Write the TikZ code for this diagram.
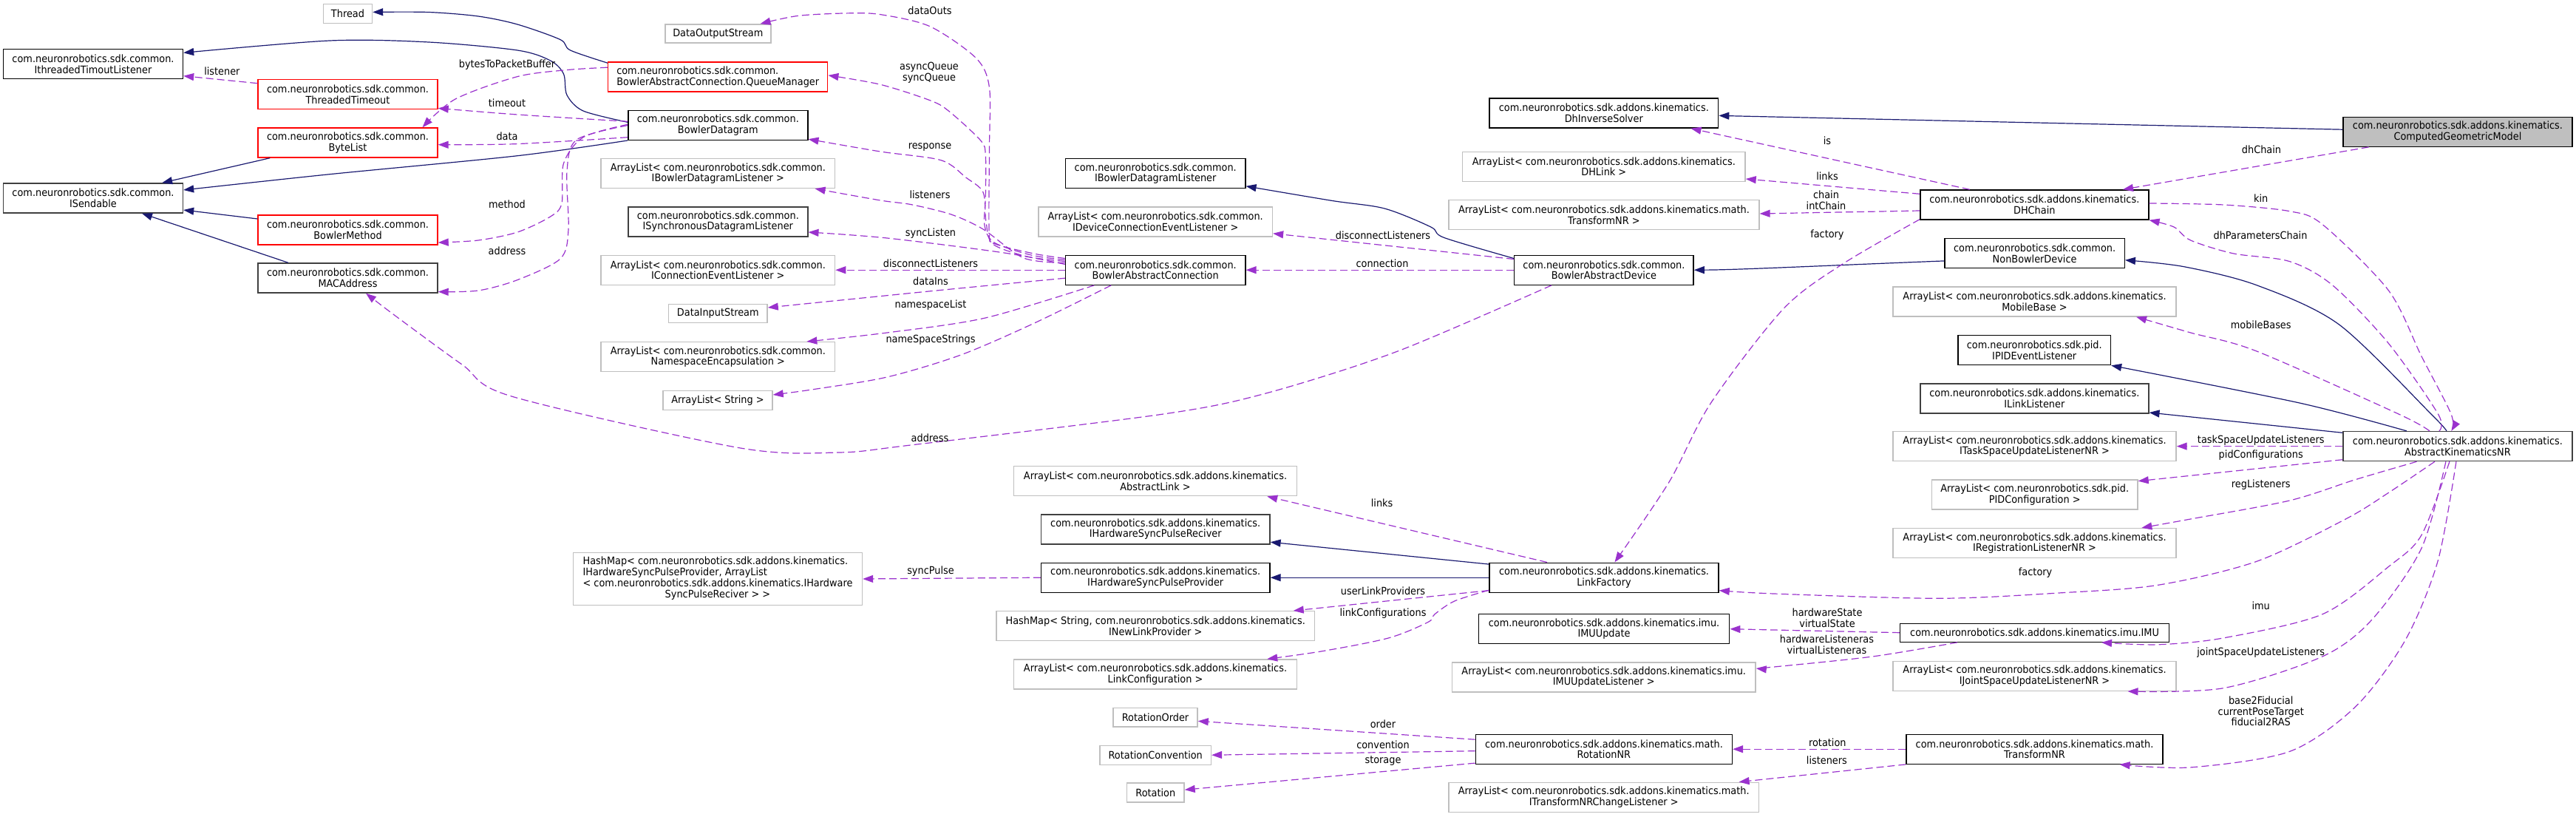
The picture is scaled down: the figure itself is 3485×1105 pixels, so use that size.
\documentclass[tikz,border=0pt]{standalone}
\usepackage{fontspec}
\setmainfont{DejaVu Sans}[FakeStretch=0.92]
\usetikzlibrary{arrows.meta,calc}
\definecolor{navy}{HTML}{191970}
\definecolor{usecol}{HTML}{9A32CD}
\definecolor{gbord}{HTML}{BFBFBF}
\definecolor{dbord}{HTML}{404040}
\begin{document}
\begin{tikzpicture}[x=1pt,y=-1pt,
 cls/.style={draw, rectangle, line width=1.4pt, inner sep=0pt, align=center, fill=white, font=\fontsize{14}{14.6}\selectfont},
 doc/.style={cls, draw=black},
 dk/.style={cls, draw=dbord},
 ext/.style={cls, draw=gbord},
 trunc/.style={cls, draw=red},
 sz/.style 2 args={minimum width=#1pt, minimum height=#2pt},
 inh/.style={navy, line width=1.2pt, -{Triangle[length=14pt,width=10pt]}},
 use/.style={usecol, line width=1.2pt, dash pattern=on 10pt off 5pt, -{Triangle[length=14pt,width=10pt]}},
 lbl/.style={font=\fontsize{14}{14.6}\selectfont, align=center, inner sep=0pt, text=black},
]
\useasboundingbox (0,0) rectangle (3485,1105);
% ---------- nodes ----------
\node[ext, sz={66}{26}] (thread) at (470.5,18.4) {Thread};
\node[doc, sz={243}{40}] (itl) at (126,86.6) {com.neuronrobotics.sdk.common.\\IthreadedTimoutListener};
\node[trunc, sz={243}{40}] (tto) at (470.5,127.7) {com.neuronrobotics.sdk.common.\\ThreadedTimeout};
\node[trunc, sz={243}{40}] (bytelist) at (470.5,193) {com.neuronrobotics.sdk.common.\\ByteList};
\node[dk, sz={243}{40}] (isend) at (126,268) {com.neuronrobotics.sdk.common.\\ISendable};
\node[trunc, sz={243}{40}] (bmethod) at (470.5,311) {com.neuronrobotics.sdk.common.\\BowlerMethod};
\node[dk, sz={243}{40}] (mac) at (470.5,376) {com.neuronrobotics.sdk.common.\\MACAddress};
\node[ext, sz={143}{25}] (dos) at (971.3,45.4) {DataOutputStream};
\node[trunc, sz={297}{40}, align=left] (qm) at (971.2,103.9) {com.neuronrobotics.sdk.common.\\BowlerAbstractConnection.QueueManager};
\node[doc, sz={243}{40}] (bdg) at (971.3,169.3) {com.neuronrobotics.sdk.common.\\BowlerDatagram};
\node[ext, sz={316.5}{40}] (albdl) at (971.3,234.5) {ArrayList< com.neuronrobotics.sdk.common.\\IBowlerDatagramListener >};
\node[dk, sz={243}{40}] (isdl) at (971.3,299.8) {com.neuronrobotics.sdk.common.\\ISynchronousDatagramListener};
\node[ext, sz={316.5}{40}] (alcel) at (971.3,365.2) {ArrayList< com.neuronrobotics.sdk.common.\\IConnectionEventListener >};
\node[ext, sz={133.5}{25}] (dis) at (971.3,423.9) {DataInputStream};
\node[ext, sz={316.5}{40}] (alns) at (971.3,482.7) {ArrayList< com.neuronrobotics.sdk.common.\\NamespaceEncapsulation >};
\node[ext, sz={148}{25.7}] (als) at (971,541.5) {ArrayList< String >};
\node[ext, sz={391}{71}] (hmsp) at (971,783) {\begin{tabular}{@{}l@{}}HashMap< com.neuronrobotics.sdk.addons.kinematics.\\IHardwareSyncPulseProvider, ArrayList\\< com.neuronrobotics.sdk.addons.kinematics.IHardware\\\multicolumn{1}{@{}c@{}}{SyncPulseReciver > >}\end{tabular}};
\node[doc, sz={243.3}{40}] (ibdl) at (1563.2,234.5) {com.neuronrobotics.sdk.common.\\IBowlerDatagramListener};
\node[ext, sz={316.5}{40}] (aldcel) at (1563.2,299.8) {ArrayList< com.neuronrobotics.sdk.common.\\IDeviceConnectionEventListener >};
\node[doc, sz={243.3}{40}] (bac) at (1563.2,365.2) {com.neuronrobotics.sdk.common.\\BowlerAbstractConnection};
\node[ext, sz={383}{40}] (alal) at (1563,650.7) {ArrayList< com.neuronrobotics.sdk.addons.kinematics.\\AbstractLink >};
\node[dk, sz={309.4}{40}] (ihspr) at (1563.2,715.8) {com.neuronrobotics.sdk.addons.kinematics.\\IHardwareSyncPulseReciver};
\node[doc, sz={309.4}{40}] (ihspp) at (1563.2,781.2) {com.neuronrobotics.sdk.addons.kinematics.\\IHardwareSyncPulseProvider};
\node[ext, sz={430.8}{40}] (hmnlp) at (1563.2,846.7) {HashMap< String, com.neuronrobotics.sdk.addons.kinematics.\\INewLinkProvider >};
\node[ext, sz={383}{40}] (allc) at (1563,912) {ArrayList< com.neuronrobotics.sdk.addons.kinematics.\\LinkConfiguration >};
\node[ext, sz={114}{25.7}] (ro) at (1563,970.3) {RotationOrder};
\node[ext, sz={150.4}{26}] (rc) at (1563.2,1021.2) {RotationConvention};
\node[ext, sz={77.4}{25.7}] (rot) at (1563.3,1072) {Rotation};
\node[doc, sz={242.3}{40}] (bad) at (2169.9,365.2) {com.neuronrobotics.sdk.common.\\BowlerAbstractDevice};
\node[doc, sz={309.6}{40}] (dhis) at (2169.8,153) {com.neuronrobotics.sdk.addons.kinematics.\\DhInverseSolver};
\node[ext, sz={382.4}{40}] (aldhl) at (2169.8,225.2) {ArrayList< com.neuronrobotics.sdk.addons.kinematics.\\DHLink >};
\node[ext, sz={420}{40}] (altnr) at (2169.9,290.5) {ArrayList< com.neuronrobotics.sdk.addons.kinematics.math.\\TransformNR >};
\node[doc, sz={310}{40}] (lf) at (2170,781.2) {com.neuronrobotics.sdk.addons.kinematics.\\LinkFactory};
\node[doc, sz={339.3}{40}] (imuu) at (2170,850.7) {com.neuronrobotics.sdk.addons.kinematics.imu.\\IMUUpdate};
\node[ext, sz={410.7}{40}] (alimuul) at (2169.7,915.8) {ArrayList< com.neuronrobotics.sdk.addons.kinematics.imu.\\IMUUpdateListener >};
\node[doc, sz={347}{40}] (rnr) at (2169.9,1013.2) {com.neuronrobotics.sdk.addons.kinematics.math.\\RotationNR};
\node[ext, sz={419.7}{40}] (altnrcl) at (2169.7,1078.3) {ArrayList< com.neuronrobotics.sdk.addons.kinematics.math.\\ITransformNRChangeListener >};
\node[doc, sz={309}{40}] (dhchain) at (2752.3,277) {com.neuronrobotics.sdk.addons.kinematics.\\DHChain};
\node[doc, sz={243.3}{40}] (nbd) at (2752.6,342.5) {com.neuronrobotics.sdk.common.\\NonBowlerDevice};
\node[ext, sz={383}{40}] (almb) at (2752.5,407.9) {ArrayList< com.neuronrobotics.sdk.addons.kinematics.\\MobileBase >};
\node[doc, sz={206.5}{40}] (ipid) at (2752.2,473.6) {com.neuronrobotics.sdk.pid.\\IPIDEventListener};
\node[dk, sz={309}{40}] (ill) at (2752.3,538.8) {com.neuronrobotics.sdk.addons.kinematics.\\ILinkListener};
\node[ext, sz={383}{40}] (altsul) at (2752.5,603.6) {ArrayList< com.neuronrobotics.sdk.addons.kinematics.\\ITaskSpaceUpdateListenerNR >};
\node[ext, sz={278.6}{40}] (alpid) at (2752.7,669) {ArrayList< com.neuronrobotics.sdk.pid.\\PIDConfiguration >};
\node[ext, sz={383}{40}] (alreg) at (2752.5,734.6) {ArrayList< com.neuronrobotics.sdk.addons.kinematics.\\IRegistrationListenerNR >};
\node[doc, sz={364}{25}] (imu) at (2752.5,855.7) {com.neuronrobotics.sdk.addons.kinematics.imu.IMU};
\node[ext, sz={383}{40}] (aljsul) at (2752.5,914.3) {ArrayList< com.neuronrobotics.sdk.addons.kinematics.\\IJointSpaceUpdateListenerNR >};
\node[doc, sz={347}{40}] (tnr) at (2752.5,1013.2) {com.neuronrobotics.sdk.addons.kinematics.math.\\TransformNR};
\node[doc, sz={310}{40}, fill=gbord] (cgm) at (3324.9,178.2) {com.neuronrobotics.sdk.addons.kinematics.\\ComputedGeometricModel};
\node[dk, sz={310}{40}] (aknr) at (3324.9,603.6) {com.neuronrobotics.sdk.addons.kinematics.\\AbstractKinematicsNR};
% ---------- inheritance edges ----------
\draw[inh] plot[smooth, tension=0.5] coordinates {([yshift=-2pt]qm.north west) (771.4,67.9) (758,53.6) (700,33) (647,22) (580,16.5) ([yshift=2pt]thread.east)};
\draw[inh] plot[smooth, tension=0.5] coordinates {([yshift=4pt]bdg.west) (789,150) (767,128.6) (762.5,100) (744.6,82) (700,68) (580,57) (446,55) ([yshift=15.2pt]itl.east)};
\draw[inh] plot[smooth] coordinates {(bdg.south west) (700,210.7) (446,235.7) ([yshift=11pt]isend.east)};
\draw[inh] ([xshift=17pt]bytelist.south west) -- ([xshift=-29pt]isend.north east);
\draw[inh] ([yshift=15pt]bmethod.west) -- ([yshift=-16pt]isend.east);
\draw[inh] ([xshift=41.6pt]mac.north west) -- ([xshift=66pt]isend.south);
\draw[inh] plot[smooth, tension=0.5] coordinates {([yshift=-5pt]bad.north west) (1953.6,321.4) (1935.7,307) (1873,282) (1801.8,271.4) ([yshift=-17.3pt]ibdl.east)};
\draw[inh] ([yshift=-10.4pt]nbd.west) .. controls (2450,360) and (2350,365) .. (bad.east);
\draw[inh] plot[smooth] coordinates {([yshift=3pt]cgm.west) (2800,167) ([yshift=-3.4pt]dhis.east)};
\draw[inh] plot[smooth] coordinates {([xshift=-15pt]aknr.north) (3289,560) (3164.5,439) (3052.9,385.7) (2954.6,360.7) ([yshift=-9.3pt]nbd.east)};
\draw[inh] plot[smooth] coordinates {([xshift=-69pt]aknr.north) (3110.9,545) (ipid.south east)};
\draw[inh] ([yshift=-2.4pt]aknr.north west) -- ([yshift=1.5pt]ill.south east);
\draw[inh] ([yshift=-2.6pt]lf.north west) -- ([yshift=-17.4pt]ihspr.east);
\draw[inh] (lf.west) -- (ihspp.east);
% ---------- usage edges ----------
\draw[use] ([yshift=-5.7pt]tto.north west) -- ([yshift=4.6pt]itl.south east);
\draw[use] plot[smooth] coordinates {([yshift=-8pt]qm.north west) (767,94.6) (700,103.6) (616,134) ([xshift=101pt]bytelist.north)};
\draw[use] plot[smooth] coordinates {([yshift=5pt]bdg.west) (700,155) ([yshift=-18.7pt]tto.east)};
\draw[use] plot[smooth] coordinates {([yshift=-16.4pt]bdg.west) (700,194.6) ([yshift=-2.7pt]bytelist.east)};
\draw[use] plot[smooth, tension=0.5] coordinates {([yshift=1pt]bdg.west) (789,185.7) (762.5,221) (760,275) (744.6,293) (700,314) (647,325) ([yshift=-17pt]bmethod.east)};
\draw[use] plot[smooth, tension=0.5] coordinates {([yshift=-0.3pt]bdg.west) (780,189) (767,232) (769,310.7) (758,350) (700,378.6) (647,393) ([yshift=-18.6pt]mac.east)};
\draw[use] plot[smooth] coordinates {([xshift=-71pt]bad.south) (1891,475) (1712.5,532) (1574,560) (1232,602) (1134,612) (1000,605.7) (692,536) (625,493) (536,428) ([xshift=24.5pt]mac.south)};
\draw[use] plot[smooth, tension=0.5] coordinates {([yshift=-5pt]bac.north west) (1400,343.3) (1346.7,330) (1338.3,316.7) (1338.5,200) (1338.4,117.9) (1320.5,78.6) (1258,35.7) (1191,19.6) (1146,17.9) (1079.5,21.4) ([xshift=-15pt]dos.north east)};
\draw[use] plot[smooth, tension=0.5] coordinates {([yshift=-7pt]bac.north west) (1395,345) (1345,328) (1332,305) (1333.3,266.7) (1333.3,210) (1326.7,190) (1283.3,150) (1258,135.7) (1191,114.3) ([yshift=2pt]qm.east)};
\draw[use] plot[smooth, tension=0.5] coordinates {([yshift=-9pt]bac.north west) (1390,347) (1343,330) (1334,300) (1330,260) (1306.7,240) (1273,216.7) (1191,205) ([yshift=1.8pt]bdg.south east)};
\draw[use] plot[smooth, tension=0.5] coordinates {([yshift=-11pt]bac.north west) (1385,349) (1330,310) (1286.7,290) (1233,276.7) (1191,271) ([xshift=-27.7pt]albdl.south east)};
\draw[use] plot[smooth] coordinates {([yshift=-13pt]bac.north west) (1356.7,341.7) (1200,322) ([yshift=-14.2pt]isdl.east)};
\draw[use] (bac.west) -- (alcel.east);
\draw[use] plot[smooth] coordinates {([yshift=-11pt]bac.west) (1266.7,393) ([yshift=7.9pt]dis.east)};
\draw[use] plot[smooth] coordinates {([xshift=-83pt]bac.south) (1333,430) (1200,450) ([xshift=-38.9pt]alns.north east)};
\draw[use] plot[smooth] coordinates {([xshift=-60pt]bac.south) (1400,436.7) (1300,480) (1200,510) (1100,526.7) ([yshift=7.5pt]als.east)};
\draw[use] ([yshift=-6pt]bad.north west) -- ([yshift=-16pt]aldcel.east);
\draw[use] (bad.west) -- (bac.east);
\draw[use] ([xshift=-87.6pt]dhchain.north) -- ([xshift=117.7pt]dhis.south);
\draw[use] ([yshift=-6pt]dhchain.north west) -- ([yshift=-16.8pt]aldhl.east);
\draw[use] ([yshift=-8pt]dhchain.west) -- ([yshift=1.5pt]altnr.east);
\draw[use] plot[smooth] coordinates {([yshift=1pt]dhchain.south west) (2492.9,357) (2412.5,417.9) (2314.6,545) (2258,652) ([xshift=14.4pt]lf.north)};
\draw[use] ([xshift=-120.3pt]cgm.south) -- ([xshift=119.7pt]dhchain.north);
\draw[use] plot[smooth] coordinates {([yshift=2pt]dhchain.east) (3008,277) (3097.5,285.7) (3142,303.6) (3231.4,392.9) (3276,482) (3316,560) ([xshift=-8.6pt]aknr.north)};
\draw[use] plot[smooth] coordinates {([xshift=-25pt]aknr.north) (3298.4,560) (3231,464) (3155.5,385.7) (3097.5,353.6) (3021.6,342.9) (2963.6,325) (2941,307) (dhchain.south east)};
\draw[use] plot[smooth] coordinates {([xshift=-38pt]aknr.north) (3245,560) (3052.9,475) (2963.6,450) ([xshift=137.5pt]almb.south)};
\draw[use] (aknr.west) -- (altsul.east);
\draw[use] ([yshift=2.6pt]aknr.south west) -- ([yshift=-2.4pt]alpid.north east);
\draw[use] plot[smooth] coordinates {([xshift=-55.4pt]aknr.south) (3186.8,648.6) (3097.5,677) (2963.6,702) ([xshift=-47.4pt]alreg.north east)};
\draw[use] plot[smooth] coordinates {([xshift=-31pt]aknr.south) (3231.4,666.4) (3173.4,702) (3052.9,759.3) (2918.9,791.4) (2785,802) (2623,809.3) (2400,803) ([yshift=-17.4pt]lf.east)};
\draw[use] plot[smooth] coordinates {([xshift=-11pt]aknr.south) (3276,723.6) (3231.4,766.4) (3142,830.7) (3008,862.9) (2919,871.8) ([xshift=90.5pt]imu.south)};
\draw[use] plot[smooth] coordinates {([xshift=-16pt]aknr.south) (3276,741.4) (3209,837.9) (3142,887.9) (3008,930.7) ([xshift=126pt]aljsul.south)};
\draw[use] plot[smooth] coordinates {([xshift=-2pt]aknr.south) (3298,759) (3253.7,866.4) (3186.8,955.7) (3097.5,1016.4) (2963.6,1037.9) ([xshift=115pt]tnr.south)};
\draw[use] ([xshift=-77pt]lf.north) -- ([xshift=-41pt]alal.south east);
\draw[use] (ihspp.west) -- (hmsp.east);
\draw[use] ([yshift=-17.4pt]lf.west) -- ([xshift=-29.6pt]hmnlp.north east);
\draw[use] plot[smooth, tension=0.5] coordinates {([yshift=-17pt]lf.west) (1967.9,812.9) (1941,830.7) (1932,841.4) (1878.6,862.9) (1789,880.7) ([xshift=-41pt]allc.north east)};
\draw[use] ([yshift=13pt]rnr.west) -- ([yshift=-5pt]ro.east);
\draw[use] ([yshift=-2.5pt]rnr.west) -- (rc.east);
\draw[use] ([yshift=1.8pt]rnr.south west) -- ([yshift=3.8pt]rot.east);
\draw[use] (tnr.west) -- (rnr.east);
\draw[use] (tnr.south west) -- ([xshift=-27.7pt]altnrcl.north east);
\draw[use] (imu.west) -- (imuu.east);
\draw[use] plot[smooth] coordinates {([xshift=-104.7pt]imu.south) (2533.9,887.9) (2400,902) ([yshift=11.8pt]alimuul.east)};
% ---------- labels ----------
\node[lbl] (l1) at (300.4,96.4) {listener};
\node[lbl] (l2) at (686,88) {bytesToPacketBuffer};
\node[lbl] (l3) at (686,139) {timeout};
\node[lbl] (l4) at (686,184) {data};
\node[lbl] (l5) at (686,276) {method};
\node[lbl] (l6) at (686,339) {address};
\node[lbl] (l7) at (1258,14) {dataOuts};
\node[lbl] (l8) at (1257,98) {asyncQueue\\syncQueue};
\node[lbl] (l9) at (1258,199) {response};
\node[lbl] (l10) at (1258,263) {listeners};
\node[lbl] (l11) at (1259,316) {syncListen};
\node[lbl] (l12) at (1259,356) {disconnectListeners};
\node[lbl] (l13) at (1259,380) {dataIns};
\node[lbl] (l14) at (1259,412.5) {namespaceList};
\node[lbl] (l15) at (1259,459.6) {nameSpaceStrings};
\node[lbl] (l16) at (1258,592.5) {address};
\node[lbl] (l17) at (1871,318) {disconnectListeners};
\node[lbl] (l18) at (1870,356.4) {connection};
\node[lbl] (l19) at (2471.9,190.4) {is};
\node[lbl] (l20) at (2472,238.2) {links};
\node[lbl] (l21) at (2470.5,270.7) {chain\\intChain};
\node[lbl] (l22) at (2471.9,317.9) {factory};
\node[lbl] (l23) at (3059.5,202.5) {dhChain};
\node[lbl] (l24) at (3058.7,267.9) {kin};
\node[lbl] (l25) at (3058,317.9) {dhParametersChain};
\node[lbl] (l26) at (3058.7,439.3) {mobileBases};
\node[lbl] (l27) at (3058.7,595.7) {taskSpaceUpdateListeners};
\node[lbl] (l28) at (3058.7,615.7) {pidConfigurations};
\node[lbl] (l29) at (3058.7,655.7) {regListeners};
\node[lbl] (l30) at (2753.6,774.3) {factory};
\node[lbl] (l31) at (3058.7,819.3) {imu};
\node[lbl] (l32) at (3058.7,882.5) {jointSpaceUpdateListeners};
\node[lbl] (l33) at (3058.7,962.1) {base2Fiducial\\currentPoseTarget\\fiducial2RAS};
\node[lbl] (l34) at (1869.6,680) {links};
\node[lbl] (l35) at (1259,772.5) {syncPulse};
\node[lbl] (l36) at (1871,799.3) {userLinkProviders};
\node[lbl] (l37) at (1871,830) {linkConfigurations};
\node[lbl] (l38) at (1871,979.6) {order};
\node[lbl] (l39) at (1871,1007.5) {convention};
\node[lbl] (l40) at (1871,1029) {storage};
\node[lbl] (l41) at (2472.3,1004.6) {rotation};
\node[lbl] (l42) at (2471.4,1028.2) {listeners};
\node[lbl] (l43) at (2472,835.7) {hardwareState\\virtualState};
\node[lbl] (l44) at (2471.4,872) {hardwareListeneras\\virtualListeneras};
\end{tikzpicture}
\end{document}
